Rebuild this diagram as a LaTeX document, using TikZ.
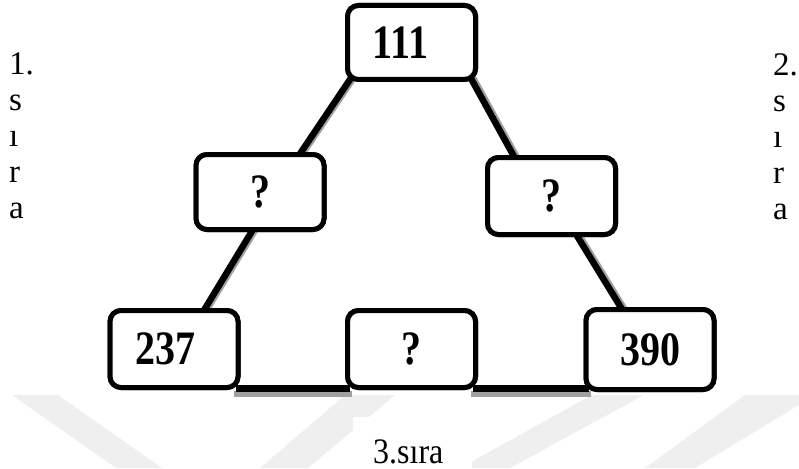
\documentclass[tikz,border=0pt]{standalone}
\usepackage{fontspec}
\usepackage{graphicx}
\setmainfont{Liberation Serif}
\newcommand\tallnum[1]{\scalebox{1}[1.2]{#1}}
\begin{document}
\begin{tikzpicture}[x=1pt, y=-1pt,
  numbox/.style={draw, line width=5pt, rounded corners=11pt, fill=white,
    minimum width=128pt, minimum height=77pt, inner sep=0pt,
    font=\fontsize{40}{48}\selectfont\bfseries},
  conn/.style={line width=6.5pt, black},
  connshadow/.style={line width=6.5pt, draw={rgb,255:red,160;green,160;blue,160}},
  sidelabel/.style={inner sep=0pt, align=left, font=\fontsize{33}{36}\selectfont},
  band/.style={fill={rgb,255:red,239;green,239;blue,239}}
]
\useasboundingbox (0,0) rectangle (799,468);

% faint diagonal bands in the lower part
\fill[band] (12,395) -- (58,395) -- (162,468) -- (116,468) -- cycle;
\fill[band] (345,395) -- (395,395) -- (308,468) -- (260,468) -- cycle;
\fill[band] (592,395) -- (644,395) -- (510,468) -- (460,468) -- cycle;
\fill[band] (745,395) -- (799,395) -- (799,405) -- (695,468) -- (645,468) -- cycle;

% boxes (placed first so connectors can refer to them)
\path
  (411.5,42.5) node[numbox, minimum height=74pt] (top) {\hspace*{-22pt}\tallnum{111}}
  (260,192)    node[numbox, minimum height=75pt] (lq)  {\tallnum{?}}
  (551.5,196)  node[numbox] (rq)  {\tallnum{?}}
  (174,349)    node[numbox] (b1)  {\hspace*{-18pt}\tallnum{237}}
  (411.5,349)  node[numbox] (b2)  {\tallnum{?}}
  (650,349.5)  node[numbox, minimum height=80pt] (b3) {\tallnum{390}};

% connector shadows
\draw[connshadow] ([shift={(12.5,-10)}]top.south west) -- ([shift={(-27.5,7)}]lq.north east);
\draw[connshadow] ([shift={(63.5,-5)}]lq.south west) -- ([shift={(-37.5,8)}]b1.north east);
\draw[connshadow] ([shift={(-7.5,-9)}]top.south east) -- ([shift={(34.5,7)}]rq.north west);
\draw[connshadow] ([shift={(91.5,-6)}]rq.south west) -- ([shift={(44.5,8)}]b3.north west);
\draw[connshadow] ([shift={(-7,4)}]b1.south east) -- ([shift={(7,4)}]b2.south west);
\draw[connshadow] ([shift={(-7,4)}]b2.south east) -- ([shift={(7,2)}]b3.south west);

% connectors
\draw[conn] ([shift={(10,-10)}]top.south west) -- ([shift={(-30,7)}]lq.north east);
\draw[conn] ([shift={(61,-5)}]lq.south west) -- ([shift={(-40,8)}]b1.north east);
\draw[conn] ([shift={(-10,-9)}]top.south east) -- ([shift={(32,7)}]rq.north west);
\draw[conn] ([shift={(89,-6)}]rq.south west) -- ([shift={(42,8)}]b3.north west);
\draw[conn] ([shift={(-5,-1.5)}]b1.south east) -- ([shift={(5,-1.5)}]b2.south west);
\draw[conn] ([shift={(-5,-1.5)}]b2.south east) -- ([shift={(5,-3.5)}]b3.south west);

% boxes again on top of the connector ends
\path
  (411.5,42.5) node[numbox, minimum height=74pt] {\hspace*{-22pt}\tallnum{111}}
  (260,192)    node[numbox, minimum height=75pt] {\tallnum{?}}
  (551.5,196)  node[numbox] {\tallnum{?}}
  (174,349)    node[numbox] {\hspace*{-18pt}\tallnum{237}}
  (411.5,349)  node[numbox] {\tallnum{?}}
  (650,349.5)  node[numbox, minimum height=80pt] {\tallnum{390}};

% row labels
\node[sidelabel, anchor=north west] (row1) at (9,53) {1.\\s\\ı\\r\\a};
\node[sidelabel, anchor=north west] (row2) at (773,53) {2.\\s\\ı\\r\\a};
\fill[white] (353,417) rectangle (472,470);
\node[inner sep=0pt, anchor=base west, font=\fontsize{32}{37}\selectfont] (row3) at (373,463) {\scalebox{1}[1.12]{3.sıra}};
\end{tikzpicture}
\end{document}
